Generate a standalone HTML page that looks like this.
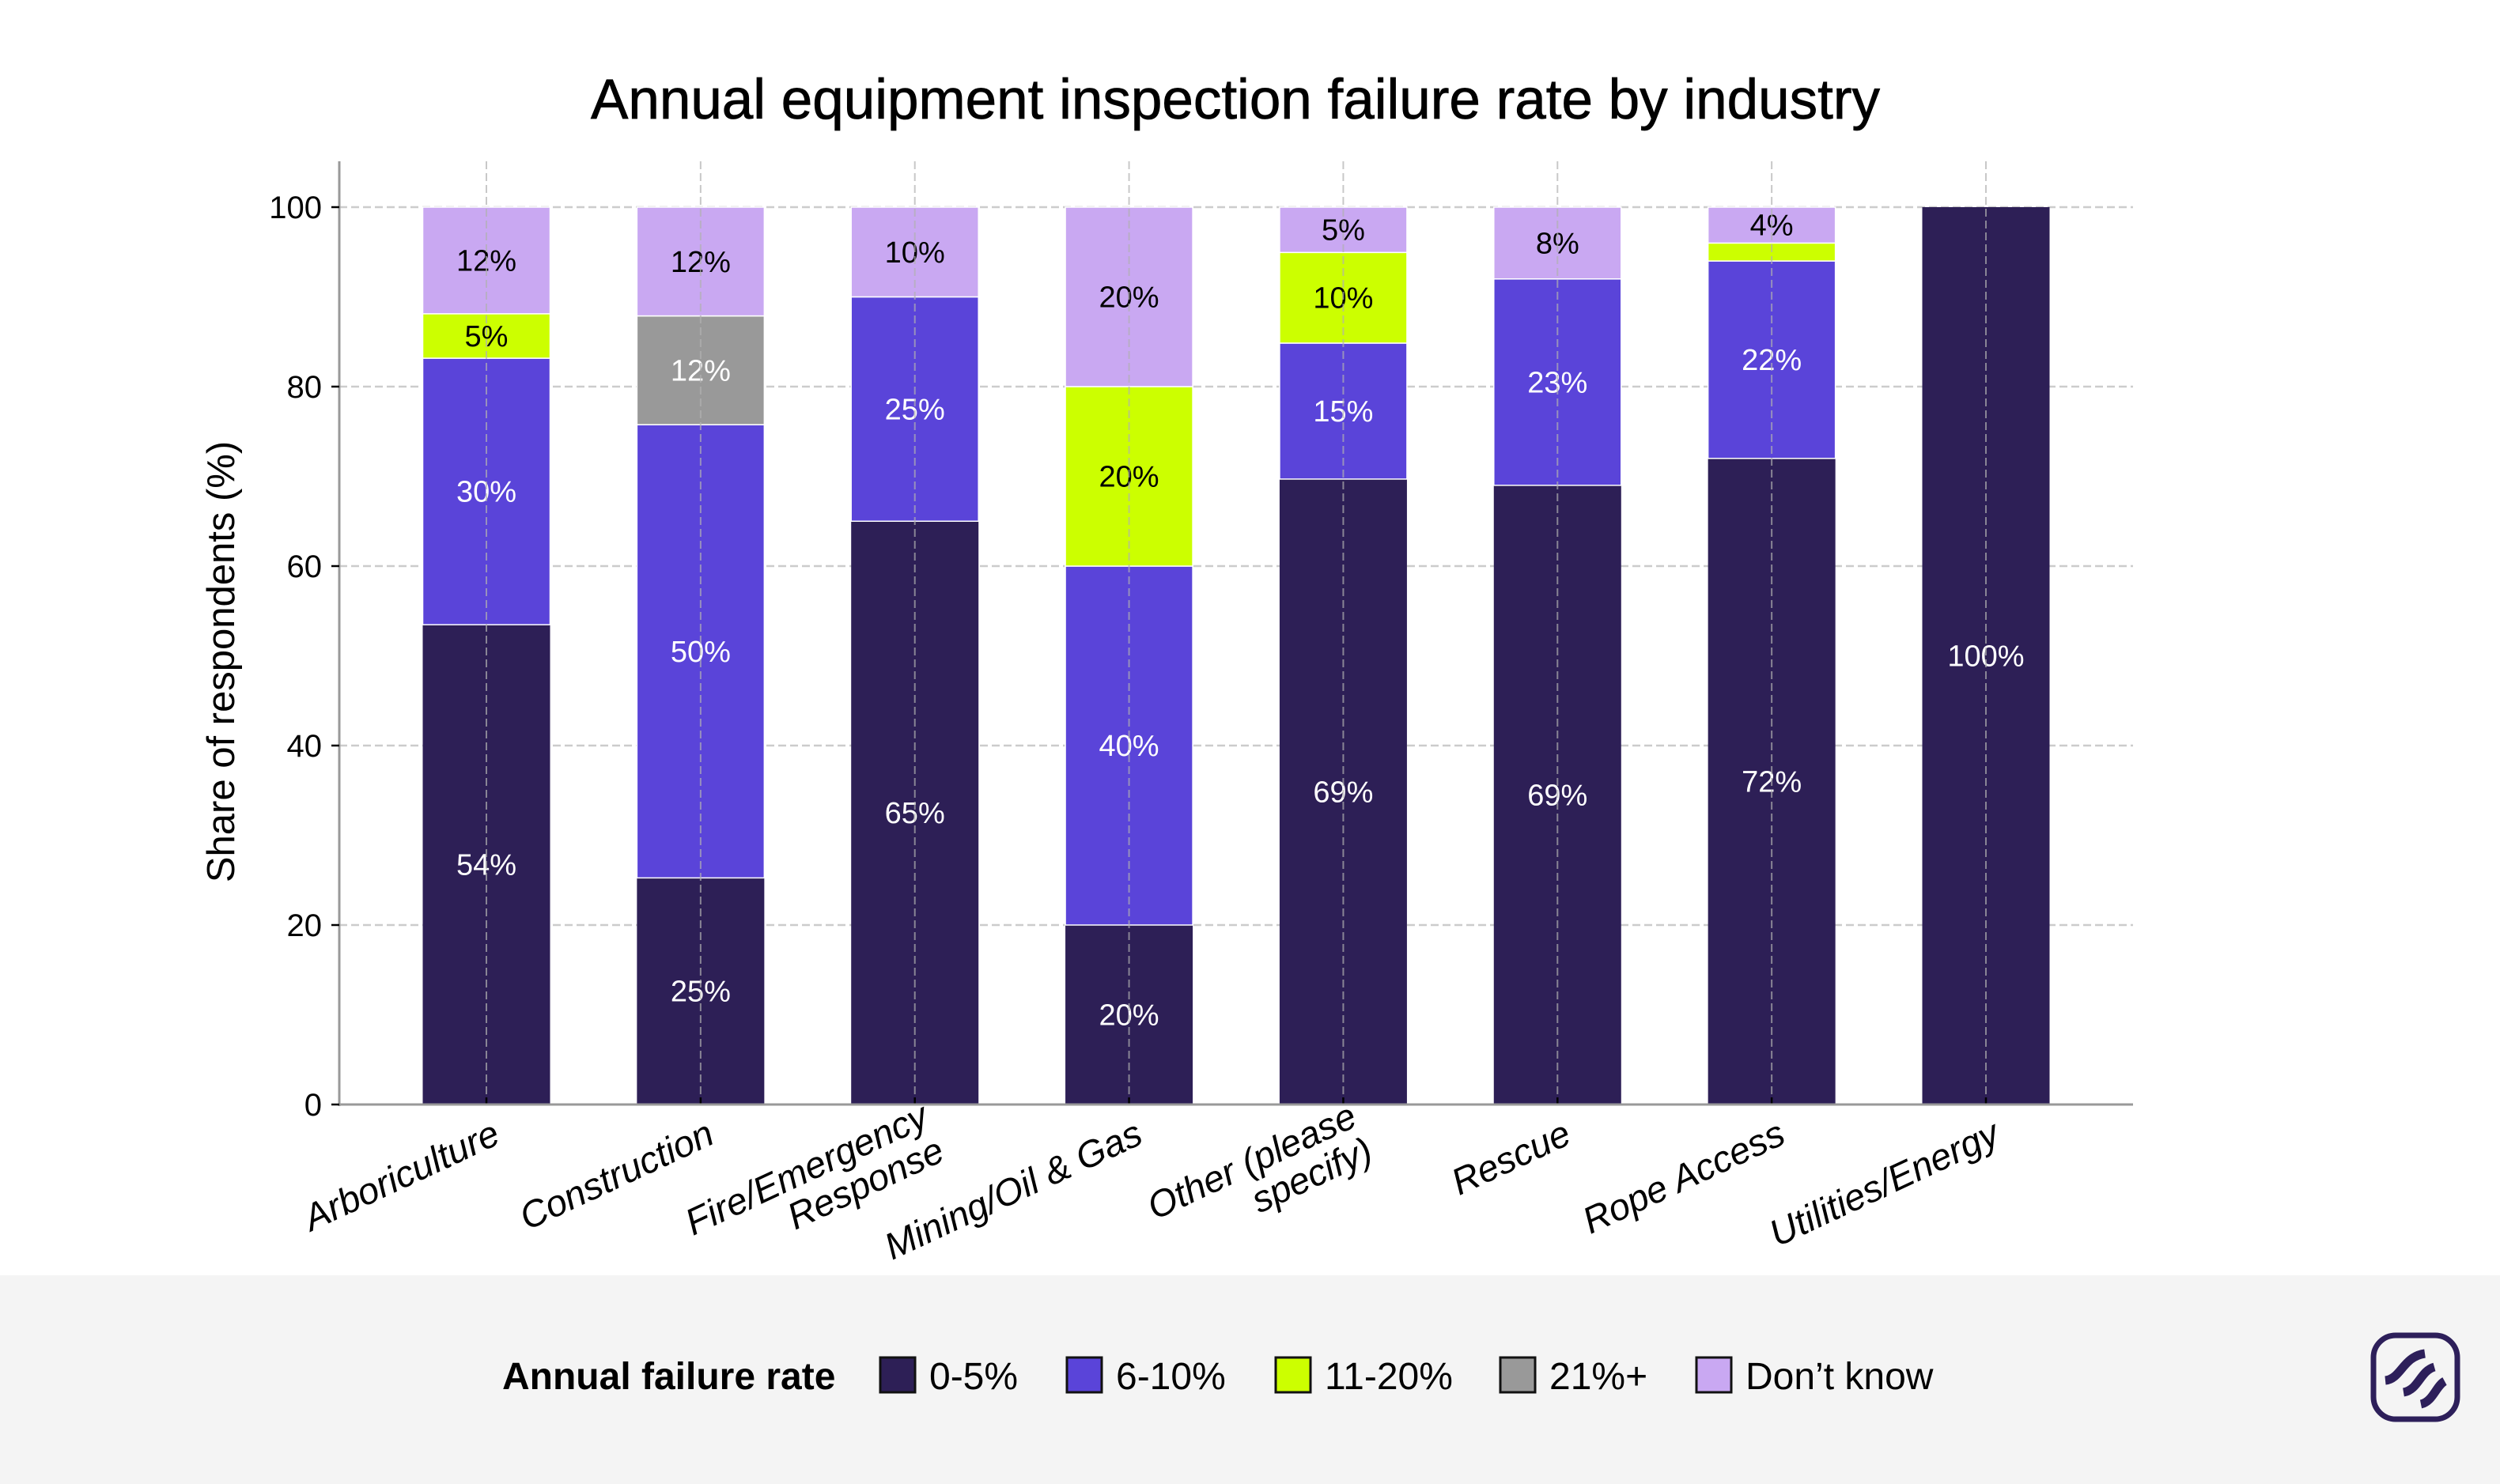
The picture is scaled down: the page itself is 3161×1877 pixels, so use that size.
<!DOCTYPE html>
<html><head><meta charset="utf-8"><style>
html,body{margin:0;padding:0;background:#fff;}
svg{display:block;font-family:"Liberation Sans",sans-serif;}
</style></head><body>
<svg id="chart" width="3161" height="1877" viewBox="0 0 3161 1877" xmlns="http://www.w3.org/2000/svg">
<rect x="0" y="0" width="3161" height="1877" fill="#ffffff"/>
<rect x="0" y="1613" width="3161" height="264" fill="#f4f4f4"/>
<text x="1562" y="150" text-anchor="middle" font-size="71" fill="#000" stroke="#000" stroke-width="0.8">Annual equipment inspection failure rate by industry</text>
<text transform="translate(296,837) rotate(-90)" text-anchor="middle" font-size="49" fill="#000">Share of respondents (%)</text>
<g id="plot"></g>
<g id="legend"></g>
<g transform="translate(2998,1686)">
<rect x="3" y="3" width="106" height="106" rx="28" fill="none" stroke="#2d1f5a" stroke-width="7"/>
<path d="M18 60 C38 58 40 30 68 26" stroke="#2d1f5a" stroke-width="11" fill="none"/>
<path d="M41 75 C60 72 62 48 80 43" stroke="#2d1f5a" stroke-width="11" fill="none"/>
<path d="M63 90 C78 87 82 67 93 61" stroke="#2d1f5a" stroke-width="11" fill="none"/>
</g>
</svg>
<script>
const categories = ["Arboriculture","Construction","Fire/Emergency\nResponse","Mining/Oil & Gas","Other (please\nspecify)","Rescue","Rope Access","Utilities/Energy"];
const s0to5 = [54,25,65,20,69,69,72,100];
const s6to10 = [30,50,25,40,15,23,22,0];
const s11to20 = [5,0,0,20,10,0,2,0];
const s21plus = [0,12,0,0,0,0,0,0];
const sDontKnow = [12,12,10,20,5,8,4,0];
const yTicks = [0,20,40,60,80,100];
const seriesNames = ["0-5%","6-10%","11-20%","21%+","Don\u2019t know"];

const NS="http://www.w3.org/2000/svg";
const seriesData=[s0to5,s6to10,s11to20,s21plus,sDontKnow];
const colors=["#2d1f56","#5a44d9","#ccff00","#999999","#c9a8f2"];
const textColors=["#fff","#fff","#000","#fff","#000"];
const slugs=["0-5","6-10","11-20","21-plus","dont-know"];
const L=429,R=2697,T=204,B=1397,Y100=262;
const pad=186;
const step=(R-L-2*pad)/(categories.length-1);
function xc(i){return L+pad+i*step;}
function y(v){return B-(B-Y100)*v/100;}
const barW=161;
function mk(tag,attrs,parent){const e=document.createElementNS(NS,tag);for(const k in attrs)e.setAttribute(k,attrs[k]);parent.appendChild(e);return e;}
const plot=document.getElementById('plot');
yTicks.forEach(t=>{
  const g=mk('line',{x1:L,x2:R,y1:y(t),y2:y(t),stroke:'#cccccc','stroke-width':2.5,'stroke-dasharray':'10 5'},plot);
  
  
});
categories.forEach((c,i)=>{
  const total=seriesData.reduce((a,s)=>a+s[i],0);
  let acc=0;
  seriesData.forEach((s,k)=>{
    const v=s[i]; if(!v) return;
    const nv=v*100/total;
    const y1=y(acc+nv), y0=y(acc);
    const r=mk('rect',{x:xc(i)-barW/2,y:y1,width:barW,height:y0-y1,fill:colors[k],stroke:'#fff','stroke-width':k>0?1.5:0},plot);
    
    
    if(v>=3){
      const t=mk('text',{x:xc(i),y:(y0+y1)/2+13,'text-anchor':'middle','font-size':38,fill:textColors[k]},plot);
      t.textContent=v+'%';
      
      
    }
    acc+=nv;
  });
});
categories.forEach((c,i)=>{
  const g=mk('line',{x1:xc(i),x2:xc(i),y1:T,y2:B,stroke:'#b0b0b0','stroke-opacity':0.7,'stroke-width':2,'stroke-dasharray':'10 5'},plot);
  
  
  const tk=mk('line',{x1:xc(i),x2:xc(i),y1:B,y2:B-9,stroke:'#000','stroke-width':2.5},plot);
  
  
  const lines=c.split('\n');
  const lab=mk('text',{transform:`translate(${xc(i)+20},${B+48}) rotate(-25)`,'text-anchor':'end','font-size':47,'font-style':'italic',fill:'#000'},plot);
  
  
  lines.forEach((ln,j)=>{const ts=mk('tspan',{x:0,dy:j===0?0:48},lab);ts.textContent=ln;});
  if(lines.length>1){lab.setAttribute('transform',`translate(${xc(i)+20},${B+26}) rotate(-25)`);}
});
const sl=mk('line',{x1:L,x2:L,y1:T,y2:B+2,stroke:'#999','stroke-width':3},plot);


const sb=mk('line',{x1:L,x2:R,y1:B,y2:B,stroke:'#999','stroke-width':3},plot);


yTicks.forEach(t=>{
  const tk=mk('line',{x1:L-10,x2:L,y1:y(t),y2:y(t),stroke:'#000','stroke-width':2.5},plot);
  
  
  const tl=mk('text',{x:L-22,y:y(t)+14,'text-anchor':'end','font-size':40,fill:'#000'},plot);
  tl.textContent=t;
  
  
});
const lg=document.getElementById('legend');
const lt=mk('text',{x:635,y:1757,'font-size':48,'font-weight':'bold',fill:'#000'},lg);
lt.textContent='Annual failure rate';


const lx=[1113,1349,1613,1897,2145];
seriesNames.forEach((n,k)=>{
  const r=mk('rect',{x:lx[k],y:1717,width:44,height:44,fill:colors[k],stroke:'#111','stroke-width':3},lg);
  
  
  const t=mk('text',{x:lx[k]+62,y:1757,'font-size':48,fill:'#000'},lg);
  t.textContent=n;
  
  
});
</script>
</body></html>
